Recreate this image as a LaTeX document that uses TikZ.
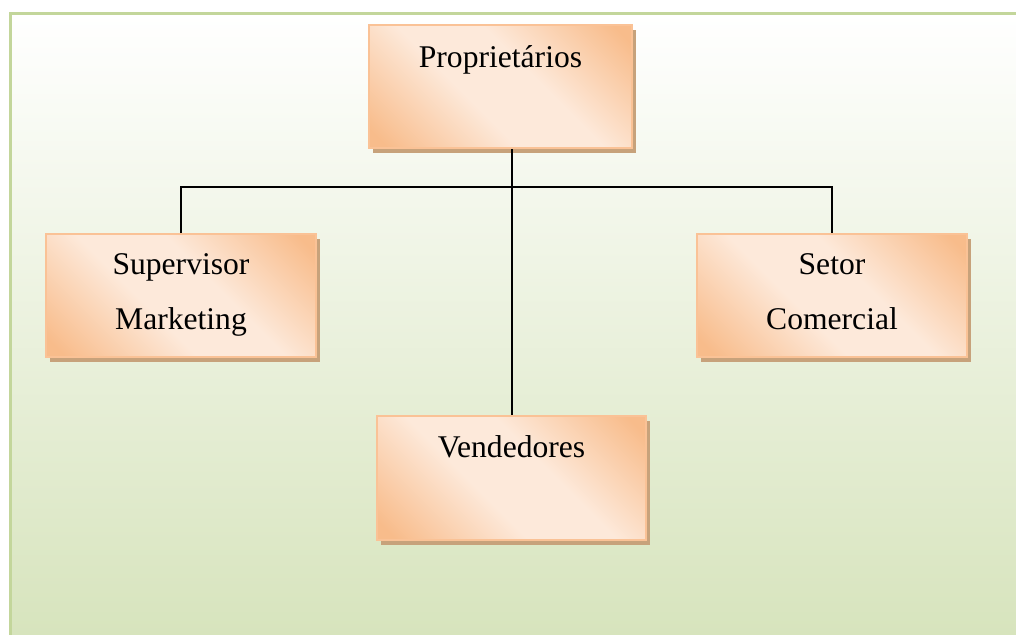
\documentclass[tikz,border=0pt]{standalone}
\usepackage{fontspec}
\setmainfont{Liberation Serif}
\usetikzlibrary{positioning,shadows}
\definecolor{framegreen}{HTML}{C3D69B}
\definecolor{bggreen}{HTML}{D7E4BD}
\definecolor{boxorange}{HTML}{F8BC8B}
\definecolor{boxlight}{HTML}{FDE9DA}
\definecolor{boxedge}{HTML}{FAC296}
\definecolor{boxshadow}{HTML}{C7A27B}
\pgfdeclarehorizontalshading{peach}{100bp}{color(0bp)=(boxorange); color(18bp)=(boxorange); color(42bp)=(boxlight); color(58bp)=(boxlight); color(82bp)=(boxorange); color(100bp)=(boxorange)}
\begin{document}
\begin{tikzpicture}[
			x=1pt, y=-1pt,
			box/.style={rectangle, draw=boxedge, line width=2pt, shading=peach, shading angle=45,
				minimum height=123pt, inner sep=0pt,
				drop shadow={shadow xshift=4pt, shadow yshift=-5pt, fill=boxshadow, opacity=1}},
			lbl/.style={font=\fontsize{31.6}{55}\selectfont, align=center, inner sep=0pt, anchor=base},
			link/.style={black, line width=2pt}
			]
			\useasboundingbox (0,0) rectangle (1016,634);
			% background panel
			\shade[top color=white, bottom color=bggreen] (10.5,13.5) rectangle (1017,635);
			\draw[framegreen, line width=3pt] (10.5,636) -- (10.5,13.5) -- (1017,13.5);
			% boxes
			\node[box, minimum width=263pt] (prop) at (500.5,86.5) {};
			\node[box, minimum width=270pt] (sup) at (181,295.5) {};
			\node[box, minimum width=270pt] (setor) at (832,295.5) {};
			\node[box, minimum width=269pt, minimum height=124pt] (vend) at (511.5,478) {};
			% texts (base = last line)
			\node[lbl] (prop-txt) at ([yshift=-43pt]prop.north) {Proprietários};
			\node[lbl] (sup-txt) at ([yshift=-96pt]sup.north) {Supervisor\\Marketing};
			\node[lbl] (setor-txt) at ([yshift=-96pt]setor.north) {Setor\\Comercial};
			\node[lbl] (vend-txt) at ([yshift=-42pt]vend.north) {Vendedores};
			% connectors
			\coordinate (bar) at (512,187);
			\draw[link] (sup.north) |- (bar) -| (setor.north);
			\draw[link] (prop.south -| vend.north) -- (vend.north);
		\end{tikzpicture}
\end{document}
